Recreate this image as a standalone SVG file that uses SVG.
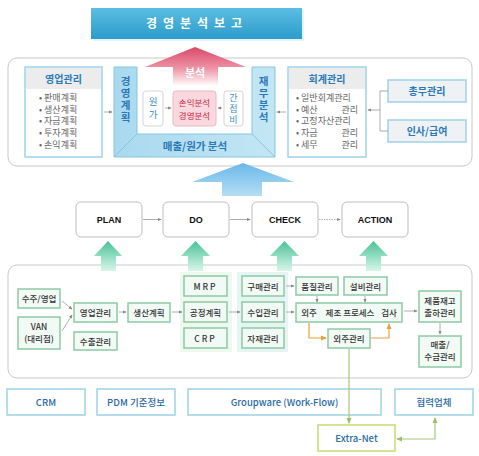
<svg xmlns="http://www.w3.org/2000/svg" width="479" height="456" viewBox="0 0 479 456">
<defs>
<linearGradient id="gBanner" x1="0" y1="0" x2="0" y2="1"><stop offset="0" stop-color="#5bbde2"/><stop offset="1" stop-color="#2c9ccb"/></linearGradient>
<linearGradient id="gPink" x1="0" y1="0" x2="0" y2="1"><stop offset="0" stop-color="#d94a68"/><stop offset="0.55" stop-color="#ee93a6"/><stop offset="1" stop-color="#ffffff"/></linearGradient>
<linearGradient id="gBlue" x1="0" y1="0" x2="0" y2="1"><stop offset="0" stop-color="#6ab8ea"/><stop offset="1" stop-color="#b5def4"/></linearGradient>
<linearGradient id="gGreen" x1="0" y1="0" x2="0" y2="1"><stop offset="0" stop-color="#49c296"/><stop offset="1" stop-color="#d8f6ea"/></linearGradient>
<linearGradient id="gU" x1="0" y1="0" x2="1" y2="0"><stop offset="0" stop-color="#a9d9ee"/><stop offset="1" stop-color="#c3e6f4"/></linearGradient>
<marker id="ag" viewBox="0 0 6 6" refX="5" refY="3" markerWidth="5" markerHeight="5" orient="auto"><path d="M0,0.5 L6,3 L0,5.5 Z" fill="#888"/></marker>
<marker id="ao" viewBox="0 0 6 6" refX="5" refY="3" markerWidth="5" markerHeight="5" orient="auto"><path d="M0,0.5 L6,3 L0,5.5 Z" fill="#e8a040"/></marker>
<marker id="agr" viewBox="0 0 6 6" refX="5" refY="3" markerWidth="5" markerHeight="5" orient="auto-start-reverse"><path d="M0,0.5 L6,3 L0,5.5 Z" fill="#9bbf6a"/></marker>
<style>
.k{font-family:"Noto Sans CJK KR","Liberation Sans",sans-serif}
.panel{fill:#fff;stroke:#c9c9c9;stroke-width:1}
.lb{fill:#fff;stroke:#9ed2e8;stroke-width:1.5}
.hd{fill:#ececec}
.tt{font-size:10px;font-weight:bold;fill:#2a78b6;text-anchor:middle}
.bl{font-size:9px;fill:#666}
.ut{font-size:10.5px;font-weight:bold;fill:#2a78b6;text-anchor:middle}
.vt{writing-mode:vertical-rl;text-anchor:start}
.gb{fill:#f2faf5;stroke:#8ec9a4;stroke-width:1.5}
.gt{font-size:8.5px;fill:#333;text-anchor:middle;font-weight:500}
.pd{fill:#fff;stroke:#bdbdbd;stroke-width:1}
.pt{font-family:"Liberation Sans",Arial,sans-serif;font-size:9px;font-weight:bold;fill:#111;text-anchor:middle}
.bt{font-size:9.5px;fill:#2a6aa6;text-anchor:middle;font-weight:500}
.ln{stroke:#999;stroke-width:0.8;fill:none}
.ol{stroke:#e8a040;stroke-width:1.2;fill:none}
.grl{stroke:#a9c47c;stroke-width:1.2;fill:none}
</style>
</defs>
<rect width="479" height="456" fill="#fff"/>

<g id="banner">
<rect x="93" y="10" width="211" height="31" fill="#d6e9f2" opacity="0.6"/>
<rect x="91" y="8" width="211" height="31" fill="url(#gBanner)"/>
<text x="197" y="27.5" class="k" font-size="12" font-weight="bold" fill="#fff" text-anchor="middle" letter-spacing="6">경영분석보고</text>
</g>

<g id="top-panel">
<rect x="8" y="58" width="464" height="108" rx="9" class="panel"/>
</g>

<g id="bunseok-arrow">
<path d="M145,67 L195,47 L246,67 L218,67 L218,86 L173,86 L173,67 Z" fill="url(#gPink)"/>
<text x="195" y="77" class="k" font-size="11" font-weight="bold" fill="#fff" text-anchor="middle">분석</text>
</g>

<g id="youngup">
<rect x="25" y="67" width="77" height="90" class="lb"/>
<rect x="26" y="68" width="75" height="21" class="hd"/>
<text x="63.5" y="83" class="k tt">영업관리</text>
<g class="k bl">
<text x="39" y="101">• 판매계획</text>
<text x="39" y="112.5">• 생산계획</text>
<text x="39" y="124">• 자금계획</text>
<text x="39" y="135.5">• 투자계획</text>
<text x="39" y="147.5">• 손익계획</text>
</g>
</g>

<g id="u-frame">
<path d="M114,67 L137,67 L137,134 L252,134 L252,67 L275,67 L275,157 L114,157 Z" fill="url(#gU)" stroke="#86c5df" stroke-width="1"/>
<path d="M137,134 L114,157 M252,134 L275,157" stroke="#86c5df" stroke-width="1"/>
<text x="125.5" y="76" class="k ut vt" letter-spacing="1.5">경영계획</text>
<text x="263.5" y="76" class="k ut vt" letter-spacing="1.5">재무분석</text>
<text x="195" y="150" class="k ut" font-size="10">매출/원가 분석</text>
</g>

<g id="wonga">
<rect x="143" y="91" width="20" height="35" rx="3" fill="#fff" stroke="#d5d5d5"/>
<text x="153" y="97" class="k vt" font-size="9.5" fill="#3a8fbf" letter-spacing="3.5">원가</text>
</g>
<g id="sonik">
<rect x="173" y="91" width="43" height="35" rx="3" fill="#f9d9df" stroke="#efb7c3"/>
<text x="194.5" y="106" class="k" font-size="8.5" fill="#d0243f" text-anchor="middle">손익분석</text>
<text x="194.5" y="119" class="k" font-size="8.5" fill="#d0243f" text-anchor="middle">경영분석</text>
</g>
<g id="ganjeop">
<rect x="224" y="91" width="19" height="35" rx="3" fill="#fff" stroke="#d5d5d5"/>
<text x="233.5" y="93" class="k vt" font-size="9" fill="#3a8fbf" letter-spacing="2">간접비</text>
</g>

<g id="hoegye">
<rect x="288" y="67" width="78" height="90" class="lb"/>
<rect x="289" y="68" width="76" height="21" class="hd"/>
<text x="327" y="83" class="k tt">회계관리</text>
<g class="k bl">
<text x="296" y="101">• 일반회계관리</text>
<text x="296" y="112.5">• 예산</text>
<text x="358" y="112.5" text-anchor="end">관리</text>
<text x="296" y="124">• 고정자산관리</text>
<text x="296" y="135.5">• 자금</text>
<text x="358" y="135.5" text-anchor="end">관리</text>
<text x="296" y="147.5">• 세무</text>
<text x="358" y="147.5" text-anchor="end">관리</text>
</g>
</g>

<g id="chongmu">
<rect x="388" y="80" width="78" height="22" fill="#eef2f4" stroke="#9ed2e8" stroke-width="1.5"/>
<text x="427" y="95" class="k tt">총무관리</text>
</g>
<g id="insa">
<rect x="388" y="120" width="78" height="22" fill="#eef2f4" stroke="#9ed2e8" stroke-width="1.5"/>
<text x="427" y="135" class="k tt">인사/급여</text>
</g>

<g id="big-blue-arrow">
<path d="M192,182 L243,163 L294,182 L262,182 L262,196 L222,196 L222,182 Z" fill="url(#gBlue)"/>
</g>

<g id="plan"><rect x="76" y="202" width="66" height="35" rx="5" class="pd"/><text x="109" y="223" class="pt">PLAN</text></g>
<g id="do"><rect x="163" y="202" width="66" height="35" rx="5" class="pd"/><text x="196" y="223" class="pt">DO</text></g>
<g id="check"><rect x="252" y="202" width="66" height="35" rx="5" class="pd"/><text x="285" y="223" class="pt">CHECK</text></g>
<g id="action"><rect x="342" y="202" width="66" height="35" rx="5" class="pd"/><text x="375" y="223" class="pt">ACTION</text></g>

<g id="bottom-panel">
<rect x="8" y="265" width="464" height="113" rx="9" class="panel"/>
</g>

<g id="green-arrows">
<path d="M94,256 L108,241 L122,256 L116,256 L116,271 L101,271 L101,256 Z" fill="url(#gGreen)"/>
<path d="M181,256 L195.5,241 L210,256 L203,256 L203,271 L188,271 L188,256 Z" fill="url(#gGreen)"/>
<path d="M270,256 L284.5,241 L299,256 L292,256 L292,271 L277,271 L277,256 Z" fill="url(#gGreen)"/>
<path d="M359,256 L373.5,241 L388,256 L381,256 L381,271 L366,271 L366,256 Z" fill="url(#gGreen)"/>
</g>

<g id="grp-mrp-bg"><rect x="180" y="272" width="52" height="80" fill="#eef8ee"/></g>
<g id="grp-buy-bg"><rect x="237" y="272" width="51" height="80" fill="#e6f5f4"/></g>

<g class="k">
<g id="suju"><rect x="18" y="289" width="42" height="19" class="gb"/><text x="39" y="302" class="gt">수주/영업</text></g>
<g id="van"><rect x="18" y="317" width="42" height="32" class="gb"/><text x="39" y="330" class="gt">VAN</text><text x="39" y="342" class="gt">(대리점)</text></g>
<g id="youngup2"><rect x="74" y="303" width="43" height="19" class="gb"/><text x="95.5" y="316" class="gt">영업관리</text></g>
<g id="suchul"><rect x="74" y="332" width="43" height="18" class="gb"/><text x="95.5" y="344.5" class="gt">수출관리</text></g>
<g id="saengsan"><rect x="128" y="303" width="42" height="19" class="gb"/><text x="149" y="316" class="gt">생산계획</text></g>
<g id="mrp"><rect x="184" y="276" width="43" height="20" class="gb"/><text x="205.5" y="289.5" class="gt" fill="#555" letter-spacing="2">MRP</text></g>
<g id="gongjeong"><rect x="184" y="302" width="43" height="20" class="gb"/><text x="205.5" y="315.5" class="gt">공정계획</text></g>
<g id="crp"><rect x="184" y="328" width="43" height="20" class="gb"/><text x="205.5" y="341.5" class="gt" fill="#555" letter-spacing="2">CRP</text></g>
<g id="gumae"><rect x="242" y="276" width="42" height="20" class="gb"/><text x="263" y="289.5" class="gt">구매관리</text></g>
<g id="suip"><rect x="242" y="302" width="42" height="20" class="gb"/><text x="263" y="315.5" class="gt">수입관리</text></g>
<g id="jajae"><rect x="242" y="328" width="42" height="20" class="gb"/><text x="263" y="341.5" class="gt">자재관리</text></g>
<g id="pumjil"><rect x="296" y="277" width="42" height="18" class="gb"/><text x="317" y="289.5" class="gt">품질관리</text></g>
<g id="seolbi"><rect x="344" y="277" width="43" height="18" class="gb"/><text x="365.5" y="289.5" class="gt">설비관리</text></g>
<g id="process"><rect x="296" y="303" width="106" height="19" class="gb"/>
<text x="309" y="316" class="gt" fill="#e8902a">외주</text>
<text x="350" y="316" class="gt">제조 프로세스</text>
<text x="389" y="316" class="gt" fill="#e8902a">검사</text></g>
<g id="oeju"><rect x="328" y="329" width="42" height="19" class="gb"/><text x="349" y="342" class="gt">외주관리</text></g>
<g id="jepum"><rect x="419" y="291" width="42" height="31" class="gb"/><text x="440" y="304" class="gt">제품재고</text><text x="440" y="316" class="gt">출하관리</text></g>
<g id="maechul"><rect x="419" y="336" width="42" height="31" class="gb"/><text x="440" y="348" class="gt">매출/</text><text x="440" y="360" class="gt">수금관리</text></g>
</g>

<g id="bottom-row" class="k">
<g id="crm"><rect x="7" y="389" width="78" height="26" class="lb"/><text x="46" y="405.5" class="bt">CRM</text></g>
<g id="pdm"><rect x="97" y="389" width="78" height="26" class="lb"/><text x="136" y="405.5" class="bt">PDM 기준정보</text></g>
<g id="groupware"><rect x="188" y="389" width="193" height="26" class="lb"/><text x="284.5" y="405.5" class="bt">Groupware (Work-Flow)</text></g>
<g id="hyeopryeok"><rect x="395" y="389" width="78" height="26" class="lb"/><text x="434" y="405.5" class="bt">협력업체</text></g>
<g id="extranet"><rect x="318" y="425" width="77" height="26" fill="#fff" stroke="#c9da74" stroke-width="1.5"/><text x="356.5" y="441.5" class="bt" fill="#555">Extra-Net</text></g>
</g>

<g id="connectors">
<line x1="104" y1="112" x2="112" y2="112" class="ln" marker-end="url(#ag)"/>
<line x1="165" y1="108" x2="171" y2="108" class="ln" marker-end="url(#ag)"/>
<line x1="222" y1="108" x2="218" y2="108" class="ln" marker-end="url(#ag)"/>
<line x1="286" y1="112" x2="277" y2="112" class="ln" marker-end="url(#ag)"/>
<path d="M388,91 L380,91 L380,131 L388,131" class="ln"/>
<line x1="380" y1="110" x2="368" y2="110" class="ln" marker-end="url(#ag)"/>
<line x1="143" y1="219.5" x2="161" y2="219.5" class="ln" marker-end="url(#ag)"/>
<line x1="230" y1="219.5" x2="250" y2="219.5" class="ln" marker-end="url(#ag)"/>
<line x1="319" y1="219.5" x2="340" y2="219.5" class="ln" stroke-dasharray="1.5,1" marker-end="url(#ag)"/>
<line x1="62" y1="301" x2="72" y2="309" class="ln" marker-end="url(#ag)"/>
<line x1="62" y1="331" x2="72" y2="315" class="ln" marker-end="url(#ag)"/>
<line x1="119" y1="312" x2="126" y2="312" class="ln" marker-end="url(#ag)"/>
<line x1="172" y1="312" x2="182" y2="312" class="ln" marker-end="url(#ag)"/>
<line x1="229" y1="312" x2="240" y2="312" class="ln" marker-end="url(#ag)"/>
<line x1="286" y1="286" x2="294" y2="286" class="ln" marker-end="url(#ag)"/>
<line x1="286" y1="312" x2="294" y2="312" class="ln" marker-end="url(#ag)"/>
<line x1="317" y1="296" x2="317" y2="302" class="ln" marker-end="url(#ag)"/>
<line x1="365" y1="296" x2="365" y2="302" class="ln" marker-end="url(#ag)"/>
<line x1="404" y1="311" x2="417" y2="311" class="ln" marker-end="url(#ag)"/>
<line x1="440" y1="323" x2="440" y2="334" class="ln" marker-end="url(#ag)"/>
<path d="M309,323 L309,338 L326,338" class="ol" marker-end="url(#ao)"/>
<path d="M371,338 L389,338 L389,324" class="ol" marker-end="url(#ao)"/>
<path d="M349,349 L349,423" class="grl" marker-end="url(#agr)"/>
<path d="M435,418 L435,439 L397,439" class="grl" marker-start="url(#agr)" marker-end="url(#agr)"/>
</g>
</svg>
